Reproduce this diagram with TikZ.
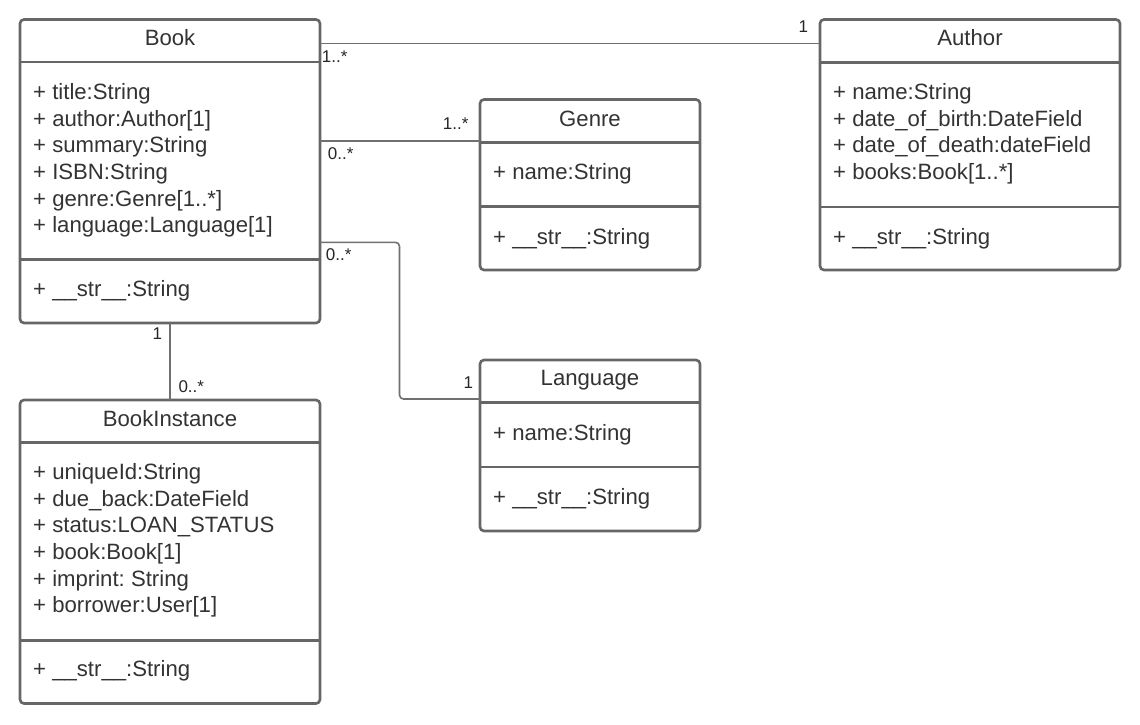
\documentclass[tikz,border=0pt]{standalone}
\usepackage{fontspec}
\setmainfont{Liberation Sans}
\frenchspacing
\definecolor{boxgray}{HTML}{666666}
\definecolor{conngray}{HTML}{707070}
\definecolor{txtgray}{HTML}{333333}
\begin{document}
\begin{tikzpicture}[x=1pt,y=-1pt,
  umlbox/.style={draw=boxgray, line width=2.6pt, rounded corners=4pt, inner sep=0pt, outer sep=0pt, anchor=north west, fill=white},
  divider/.style={draw=boxgray, line width=2.6pt},
  conn/.style={draw=conngray, line width=1.6pt, rounded corners=4pt},
  attr/.style={anchor=base west, inner sep=0pt, text=txtgray, font=\fontsize{22.15}{26}\selectfont},
  ttl/.style={anchor=base, inner sep=0pt, text=txtgray, font=\fontsize{22.15}{26}\selectfont},
  mult/.style={anchor=base west, inner sep=0pt, text=black!85, font=\fontsize{17}{20}\selectfont}]
\useasboundingbox[fill=white] (0,0) rectangle (1140,724);

% connector levels
\coordinate (yA) at (0,43.3);
\coordinate (yG) at (0,140.7);
\coordinate (yL1) at (0,242.3);
\coordinate (yL2) at (0,399);
\coordinate (xL) at (399.5,0);
\coordinate (xBI) at (170,0);

% boxes
\node[umlbox, minimum width=300pt, minimum height=303.5pt] (book) at (20,19.5) {};
\node[umlbox, minimum width=300pt, minimum height=250.5pt] (author) at (820,19.5) {};
\node[umlbox, minimum width=220pt, minimum height=170.5pt] (genre) at (480,99.5) {};
\node[umlbox, minimum width=220pt, minimum height=171pt] (language) at (480,360) {};
\node[umlbox, minimum width=300pt, minimum height=303.5pt] (bookinst) at (20,400) {};

% dividers
\draw[divider] (20,62) -- (320,62);
\draw[divider] (20,259.5) -- (320,259.5);
\draw[divider] (820,62.5) -- (1120,62.5);
\draw[divider] (820,207) -- (1120,207);
\draw[divider] (480,142.5) -- (700,142.5);
\draw[divider] (480,206.5) -- (700,206.5);
\draw[divider] (480,402.5) -- (700,402.5);
\draw[divider] (480,467) -- (700,467);
\draw[divider] (20,442.7) -- (320,442.7);
\draw[divider] (20,640.5) -- (320,640.5);

% Book text
\node[ttl] (bookT) at (170,45.7) {Book};
\node[attr] (b1) at (33,99.3) {+ title:String};
\node[attr] (b2) at (33,126) {+ author:Author[1]};
\node[attr] (b3) at (33,152.7) {+ summary:String};
\node[attr] (b4) at (33,179.3) {+ ISBN:String};
\node[attr] (b5) at (33,206) {+ genre:Genre[1..*]};
\node[attr] (b6) at (33,232.7) {+ language:Language[1]};
\node[attr] (b7) at (33,296.7) {+ \_\_str\_\_:String};

% Author text
\node[ttl] (authT) at (970,45.7) {Author};
\node[attr] (a1) at (833,99.3) {+ name:String};
\node[attr] (a2) at (833,126) {+ date\_of\_birth:DateField};
\node[attr] (a3) at (833,152.7) {+ date\_of\_death:dateField};
\node[attr] (a4) at (833,179.3) {+ books:Book[1..*]};
\node[attr] (a5) at (833,244.5) {+ \_\_str\_\_:String};

% Genre text
\node[ttl] (genT) at (590,126) {Genre};
\node[attr] (g1) at (493,179.5) {+ name:String};
\node[attr] (g2) at (493,244) {+ \_\_str\_\_:String};

% Language text
\node[ttl] (lanT) at (590,385.7) {Language};
\node[attr] (l1) at (493,440) {+ name:String};
\node[attr] (l2) at (493,504.5) {+ \_\_str\_\_:String};

% BookInstance text
\node[ttl] (biT) at (170,426) {BookInstance};
\node[attr] (i1) at (33,479.3) {+ uniqueId:String};
\node[attr] (i2) at (33,506) {+ due\_back:DateField};
\node[attr] (i3) at (33,532.7) {+ status:LOAN\_STATUS};
\node[attr] (i4) at (33,559.3) {+ book:Book[1]};
\node[attr] (i5) at (33,586) {+ imprint: String};
\node[attr] (i6) at (33,612.7) {+ borrower:User[1]};
\node[attr] (i7) at (33,676.7) {+ \_\_str\_\_:String};

% connectors
\draw[conn] (book.east |- yA) -- (author.west |- yA);
\draw[conn] (book.east |- yG) -- (genre.west |- yG);
\draw[conn] (book.east |- yL1) -- (xL |- yL1) -- (xL |- yL2) -- (language.west |- yL2);
\draw[conn] (xBI |- book.south) -- (xBI |- bookinst.north);

% multiplicities
\node[mult] (m1) at (321.7,62.3) {1..*};
\node[mult] (m2) at (798.5,32.7) {1};
\node[mult] (m3) at (442.7,129.3) {1..*};
\node[mult] (m4) at (327.7,159) {0..*};
\node[mult] (m5) at (325.7,260) {0..*};
\node[mult] (m6) at (463.5,388.3) {1};
\node[mult] (m7) at (152.5,339) {1};
\node[mult] (m8) at (178.3,392.3) {0..*};
\end{tikzpicture}
\end{document}
